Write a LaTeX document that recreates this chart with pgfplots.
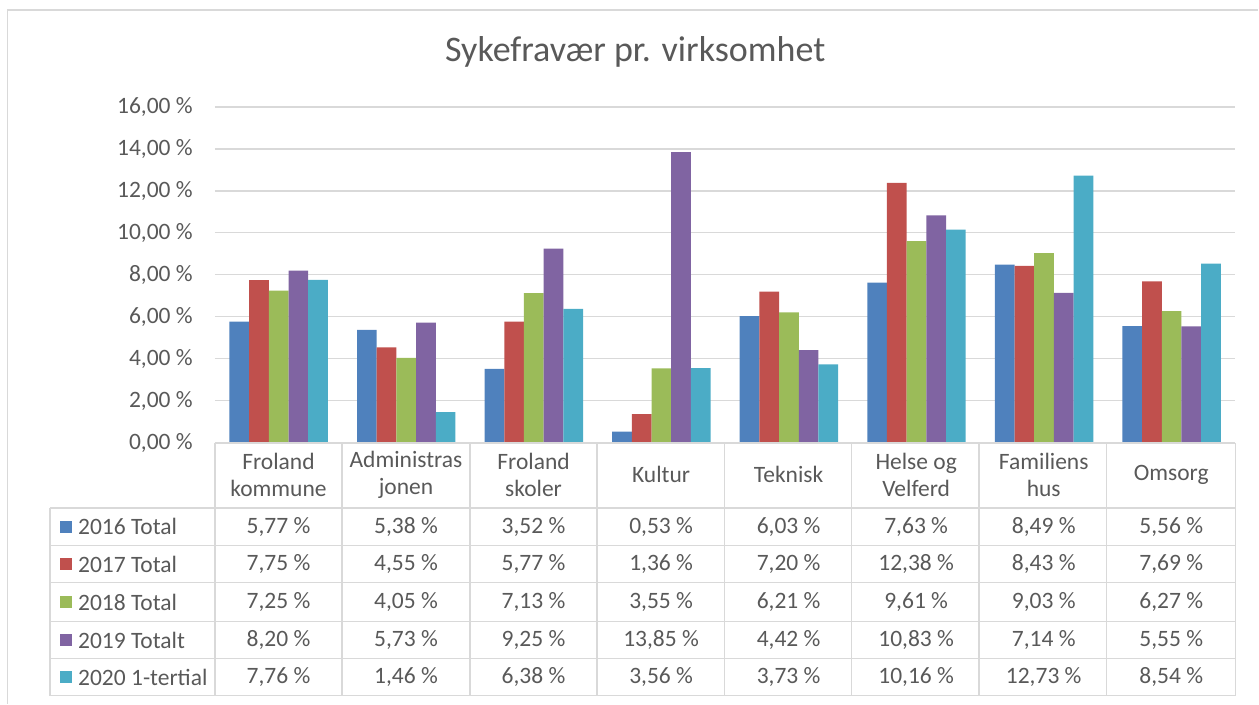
\documentclass[border=0pt]{standalone}
\usepackage{pgfplots}
\pgfplotsset{compat=1.18}
\usepackage{fontspec}
\setmainfont{Carlito}
\definecolor{c16}{HTML}{4F81BD}
\definecolor{c17}{HTML}{C0504D}
\definecolor{c18}{HTML}{9BBB59}
\definecolor{c19}{HTML}{8064A2}
\definecolor{c20}{HTML}{4BACC6}
\definecolor{txt}{HTML}{595959}
\definecolor{gridc}{HTML}{D9D9D9}
\begin{document}
\begin{tikzpicture}[x=1pt,y=1pt]
\path (0,0) rectangle (1259,704);
\draw[gridc,line width=1.2pt] (7.5,0) -- (7.5,694) -- (1259,694);
\begin{axis}[at={(215pt,261pt)}, anchor=south west, scale only axis,
  width=1021pt, height=336pt,
  xmin=-0.5, xmax=7.5, ymin=0, ymax=16,
  ytick={0,2,...,16},
  yticklabels={{0,00 \%},{2,00 \%},{4,00 \%},{6,00 \%},{8,00 \%},{10,00 \%},{12,00 \%},{14,00 \%},{16,00 \%}},
  yticklabel style={font=\fontsize{23.5}{28}\selectfont, text=txt, inner sep=0pt, anchor=east, xshift=-22pt},
  xtick=\empty,
  axis line style={draw=none},
  major tick length=0pt,
  ymajorgrids, grid style={gridc, line width=1.2pt},
  ybar=0pt, bar width=19.7pt,
  clip=false]
\addplot[fill=c16, draw=none] coordinates {(0,5.77) (1,5.38) (2,3.52) (3,0.53) (4,6.03) (5,7.63) (6,8.49) (7,5.56)};
\addplot[fill=c17, draw=none] coordinates {(0,7.75) (1,4.55) (2,5.77) (3,1.36) (4,7.20) (5,12.38) (6,8.43) (7,7.69)};
\addplot[fill=c18, draw=none] coordinates {(0,7.25) (1,4.05) (2,7.13) (3,3.55) (4,6.21) (5,9.61) (6,9.03) (7,6.27)};
\addplot[fill=c19, draw=none] coordinates {(0,8.20) (1,5.73) (2,9.25) (3,13.85) (4,4.42) (5,10.83) (6,7.14) (7,5.55)};
\addplot[fill=c20, draw=none] coordinates {(0,7.76) (1,1.46) (2,6.38) (3,3.56) (4,3.73) (5,10.16) (6,12.73) (7,8.54)};
\end{axis}
% title
\node[font=\fontsize{36}{40}\selectfont, text=txt] at (635.5,652) {Sykefravær pr. virksomhet};
% table grid
\begin{scope}[gridc, line width=1.5pt]
\draw (215,261) -- (1236,261);
\foreach \yy in {196,158,121,82,45,8} \draw (50,\yy) -- (1236,\yy);
\foreach \xx in {215,342,470,597.5,725,852,979.5,1107,1236} \draw (\xx,261) -- (\xx,8);
\draw (50,196) -- (50,8);
\end{scope}
\begin{scope}[font=\fontsize{23.5}{27}\selectfont, text=txt]
\foreach \h [count=\i from 0] in {{Froland\\kommune},{Administras\\jonen},{Froland\\skoler},{Kultur},{Teknisk},{Helse og\\Velferd},{Familiens\\hus},{Omsorg}}
  \node[align=center, inner sep=0pt] at (278.6+127.6*\i, 229) {\h};
\foreach \v [count=\i from 0] in {{5,77 \%},{5,38 \%},{3,52 \%},{0,53 \%},{6,03 \%},{7,63 \%},{8,49 \%},{5,56 \%}}
  \node at (278.6+127.6*\i, 177) {\v};
\foreach \v [count=\i from 0] in {{7,75 \%},{4,55 \%},{5,77 \%},{1,36 \%},{7,20 \%},{12,38 \%},{8,43 \%},{7,69 \%}}
  \node at (278.6+127.6*\i, 139.5) {\v};
\foreach \v [count=\i from 0] in {{7,25 \%},{4,05 \%},{7,13 \%},{3,55 \%},{6,21 \%},{9,61 \%},{9,03 \%},{6,27 \%}}
  \node at (278.6+127.6*\i, 101.5) {\v};
\foreach \v [count=\i from 0] in {{8,20 \%},{5,73 \%},{9,25 \%},{13,85 \%},{4,42 \%},{10,83 \%},{7,14 \%},{5,55 \%}}
  \node at (278.6+127.6*\i, 63.5) {\v};
\foreach \v [count=\i from 0] in {{7,76 \%},{1,46 \%},{6,38 \%},{3,56 \%},{3,73 \%},{10,16 \%},{12,73 \%},{8,54 \%}}
  \node at (278.6+127.6*\i, 26.5) {\v};
\foreach \c/\l/\yy in {c16/2016 Total/177, c17/2017 Total/139.5, c18/2018 Total/101.5, c19/2019 Totalt/63.5, c20/2020 1-tertial/26.5}{
  \fill[\c] (60,\yy-6) rectangle (72,\yy+6);
  \node[anchor=west, inner sep=0pt] at (78,\yy) {\l};
}
\end{scope}
\end{tikzpicture}
\end{document}
